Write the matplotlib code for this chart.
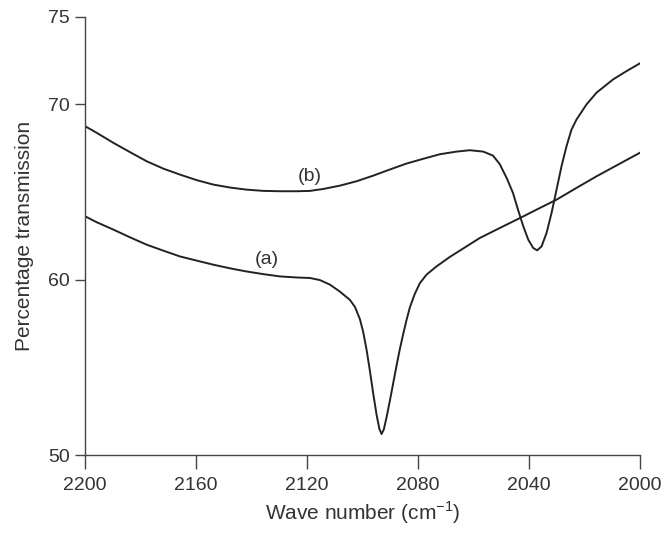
import matplotlib.pyplot as plt

plt.rcParams['font.family'] = ['Liberation Sans', 'DejaVu Sans']
plt.rcParams['mathtext.fontset'] = 'custom'
plt.rcParams['mathtext.rm'] = 'Liberation Sans'

# curve (a)
wave_a = [2200, 2195.8, 2189.8, 2183.8, 2177.8, 2171.8, 2165.8, 2159.7, 2153.8,
          2147.7, 2141.7, 2135.7, 2129.7, 2123.7, 2118.9, 2115.3, 2111.7, 2108.1,
          2104.5, 2102.7, 2100.9, 2099.7, 2098.5, 2097.3, 2096.1, 2094.9, 2093.9,
          2093.1, 2092.3, 2091.3, 2090.1, 2088.9, 2087.7, 2086.5, 2085.3, 2084.1,
          2082.9, 2081.1, 2079.3, 2076.9, 2073.3, 2068.5, 2063, 2057.7, 2050.5,
          2043.2, 2036.7, 2030.0, 2022.8, 2015.6, 2007.8, 2000]
trans_a = [63.62, 63.28, 62.86, 62.42, 62.0, 61.66, 61.33, 61.09, 60.86,
           60.65, 60.47, 60.32, 60.19, 60.13, 60.1, 59.98, 59.72, 59.32,
           58.85, 58.45, 57.75, 57.0, 56.0, 54.8, 53.5, 52.3, 51.5,
           51.2, 51.45, 52.15, 53.1, 54.1, 55.1, 56.05, 56.9, 57.7,
           58.42, 59.2, 59.8, 60.29, 60.76, 61.3, 61.85, 62.38, 62.95,
           63.52, 64.04, 64.57, 65.24, 65.9, 66.57, 67.24]

# curve (b)
wave_b = [2200, 2195.8, 2189.8, 2183.8, 2177.8, 2171.8, 2165.8, 2159.7, 2153.8,
          2147.7, 2141.7, 2135.7, 2129.7, 2123.7, 2118.9, 2114.1, 2108.1, 2102.1,
          2096.1, 2090.1, 2084.1, 2078.1, 2072.1, 2066.1, 2061.3, 2056.4, 2052.9,
          2050.5, 2048.0, 2045.7, 2043.9, 2042.0, 2040.2, 2038.4, 2037.0, 2035.4,
          2033.6, 2031.8, 2030.0, 2028.2, 2026.4, 2024.6, 2022.8, 2019.2, 2015.6,
          2009.6, 2004.8, 2000]
trans_b = [68.76, 68.38, 67.81, 67.28, 66.76, 66.34, 66.0, 65.68, 65.43,
           65.26, 65.14, 65.07, 65.05, 65.05, 65.07, 65.18, 65.37, 65.62,
           65.94, 66.29, 66.63, 66.9, 67.16, 67.31, 67.39, 67.31, 67.08,
           66.6, 65.81, 64.95, 64.0, 63.05, 62.29, 61.81, 61.68, 61.9,
           62.67, 63.81, 65.14, 66.48, 67.62, 68.57, 69.14, 70.0, 70.67,
           71.43, 71.9, 72.34]

xticks = [2200, 2160, 2120, 2080, 2040, 2000]
yticks = [50, 60, 70, 75]

fig = plt.figure(figsize=(6.65, 5.43), dpi=100)
ax = fig.add_axes([0.128, 0.162, 0.834, 0.807])

ax.plot(wave_a, trans_a, color='#222222', lw=1.4, solid_joinstyle='round')
ax.plot(wave_b, trans_b, color='#222222', lw=1.4, solid_joinstyle='round')

ax.text(2134.5, 61.15, '(a)', fontsize=14, color='#333333', ha='center', va='center')
ax.text(2119, 65.9, '(b)', fontsize=14, color='#333333', ha='center', va='center')

ax.set_xlim(2200, 2000)
ax.set_ylim(50, 75)
ax.set_xticks(xticks)
ax.set_yticks(yticks)
ax.spines['top'].set_visible(False)
ax.spines['right'].set_visible(False)
for s in ['left', 'bottom']:
    ax.spines[s].set_color('#444444')
    ax.spines[s].set_linewidth(1.0)
ax.tick_params(axis='x', length=10, width=1.0, color='#444444', labelsize=14,
               labelcolor='#333333', pad=6)
ax.tick_params(axis='y', length=7, width=1.0, color='#444444', labelsize=14,
               labelcolor='#333333', pad=4)

ax.set_xlabel(r'Wave number (cm$^{\mathregular{-1}}$)', fontsize=15, color='#333333', labelpad=4)
ax.set_ylabel('Percentage transmission', fontsize=15, color='#333333', labelpad=10)

fig.savefig('out.png', dpi=100)
